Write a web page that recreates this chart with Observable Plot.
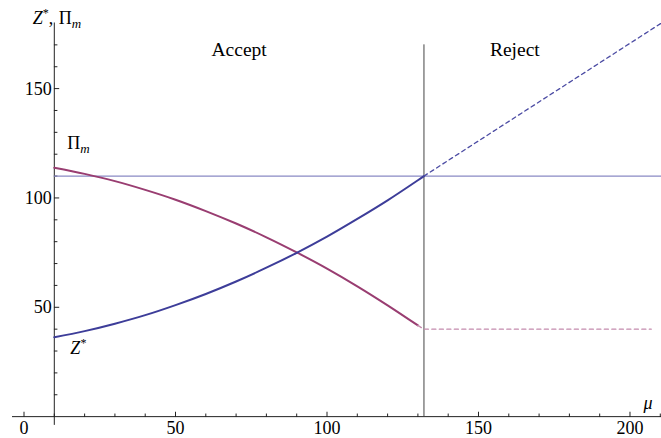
<!DOCTYPE html>
<html>
<head>
<meta charset="utf-8">
<script src="https://cdn.jsdelivr.net/npm/d3@7"></script>
<script src="https://cdn.jsdelivr.net/npm/@observablehq/plot@0.6"></script>
<style>
  html, body { margin: 0; padding: 0; background: white; }
  #chart svg text { font-family: "Liberation Serif", "DejaVu Serif", serif !important; }
</style>
</head>
<body>
<div id="chart"></div>
<script>
// Accept region (solid curves)
const muAccept = [10, 20, 30, 40, 50, 60, 70, 80, 90, 100, 110, 120, 130, 132];
const zStar    = [36.3, 39.1, 42.5, 46.4, 51.0, 56.1, 61.8, 68.1, 74.9, 82.3, 90.4, 98.9, 108.1, 110];
const muPi     = [10, 20, 30, 40, 50, 60, 70, 80, 90, 100, 110, 120, 130];
const piM      = [113.8, 111.0, 107.7, 103.7, 99.2, 94.0, 88.3, 82.0, 75.1, 67.7, 59.6, 50.9, 41.7];
// Reject region (dashed)
const muZReject = [132, 210.4];
const zReject   = [110, 180];
const muPiReject = [130, 132, 207];
const piReject   = [41.7, 40, 40];
// Reference levels
const piLevel = 110;
const threshold = 132;
const yAxisAt = 10;
// Ticks
const xMajor = [0, 50, 100, 150, 200];
const xMinor = [10, 20, 30, 40, 60, 70, 80, 90, 110, 120, 130, 140, 160, 170, 180, 190, 210];
const yMajor = [50, 100, 150];
const yMinor = [10, 20, 30, 40, 60, 70, 80, 90, 110, 120, 130, 140, 160, 170];
// Labels
const regionLabels = [{mu: 71, v: 164.7, text: "Accept"}, {mu: 162, v: 164.7, text: "Reject"}];

const zData = muAccept.map((m, i) => ({mu: m, v: zStar[i]}));
const piData = muPi.map((m, i) => ({mu: m, v: piM[i]}));
const zRejData = muZReject.map((m, i) => ({mu: m, v: zReject[i]}));
const piRejData = muPiReject.map((m, i) => ({mu: m, v: piReject[i]}));

const tickShape = {draw(context, l) { context.moveTo(0, 0); context.lineTo(0, -l); }};

const plot = Plot.plot({
  width: 661,
  height: 438,
  marginLeft: 12,
  marginRight: 0,
  marginTop: 22.5,
  marginBottom: 0,
  x: {domain: [-3.8, 210.4], axis: null},
  y: {domain: [-10, 180], axis: null},
  style: {fontFamily: "Liberation Serif, DejaVu Serif, serif", fontSize: "18px", background: "white", color: "black"},
  marks: [
    // axes
    Plot.ruleY([0], {x1: -3.8, x2: 210.4, stroke: "#222", strokeWidth: 1}),
    Plot.ruleX([yAxisAt], {y1: -4, y2: 180, stroke: "#222", strokeWidth: 1}),
    Plot.vector(xMajor, {x: d => d, y: 0, length: 4.5, anchor: "start", shape: tickShape, stroke: "#222", strokeWidth: 1}),
    Plot.vector(xMinor, {x: d => d, y: 0, length: 2.7, anchor: "start", shape: tickShape, stroke: "#222", strokeWidth: 1}),
    Plot.vector(yMajor, {x: yAxisAt, y: d => d, length: 4.5, rotate: 90, anchor: "start", shape: tickShape, stroke: "#222", strokeWidth: 1}),
    Plot.vector(yMinor, {x: yAxisAt, y: d => d, length: 2.7, rotate: 90, anchor: "start", shape: tickShape, stroke: "#222", strokeWidth: 1}),
    Plot.text(xMajor, {x: d => d, y: 0, text: d => String(d), dy: 17, lineAnchor: "bottom", textAnchor: "middle", fill: "black"}),
    Plot.text(yMajor, {x: yAxisAt, y: d => d, text: d => String(d), dx: -2.5, dy: 6, lineAnchor: "bottom", textAnchor: "end", fill: "black"}),
    // threshold
    Plot.ruleX([threshold], {y1: 0, y2: 170, stroke: "#444", strokeWidth: 1}),
    // horizontal level
    Plot.ruleY([piLevel], {x1: yAxisAt, x2: 210.4, stroke: "#8A8AC4", strokeWidth: 1.4}),
    // curves
    Plot.line(piData, {x: "mu", y: "v", stroke: "#993D71", strokeWidth: 2, curve: "catmull-rom"}),
    Plot.line(zData, {x: "mu", y: "v", stroke: "#3D3D99", strokeWidth: 2, curve: "catmull-rom"}),
    Plot.line(piRejData, {x: "mu", y: "v", stroke: "#C48BAD", strokeWidth: 1.4, strokeDasharray: "4,3.5"}),
    Plot.line(zRejData, {x: "mu", y: "v", stroke: "#4B4BA3", strokeWidth: 1.3, strokeDasharray: "4,3.5"}),
    // labels
    Plot.text(regionLabels, {x: "mu", y: "v", text: "text", fontSize: 19.5, lineAnchor: "bottom", textAnchor: "middle", fill: "black"}),
    Plot.text(["Z*,"], {x: yAxisAt, y: 179.6, text: d => d, dx: -1, lineAnchor: "bottom", textAnchor: "end", fill: "black"}),
    Plot.text(["Πm"], {x: yAxisAt, y: 179.6, text: d => d, dx: 4.5, lineAnchor: "bottom", textAnchor: "start", fill: "black"}),
    Plot.text(["Πm"], {x: 14.3, y: 122.6, text: d => d, lineAnchor: "bottom", textAnchor: "start", fill: "black"}),
    Plot.text(["Z*"], {x: 15.3, y: 28.7, text: d => d, lineAnchor: "bottom", textAnchor: "start", fill: "black"}),
    Plot.text(["μ"], {x: 204.5, y: 3.7, text: d => d, lineAnchor: "bottom", textAnchor: "start", fill: "black"})
  ]
});

// rich text formatting for math labels
d3.select(plot).selectAll("text").each(function() {
  const t = d3.select(this);
  t.attr("font-family", "Liberation Serif, DejaVu Serif, serif");
  const s = t.text();
  if (s === "Z*," || s === "Z*") {
    t.text("");
    t.append("tspan").attr("font-style", "italic").text("Z");
    t.append("tspan").attr("font-size", "12px").attr("dy", "-7").text("*");
    if (s === "Z*,") t.append("tspan").attr("dy", "7").text(",");
  } else if (s === "Πm") {
    t.text("");
    t.append("tspan").text("Π");
    t.append("tspan").attr("font-style", "italic").attr("font-size", "13px").attr("dy", "4").text("m");
  } else if (s === "μ") {
    t.attr("font-style", "italic");
  }
});

document.getElementById("chart").appendChild(plot);
</script>
</body>
</html>
